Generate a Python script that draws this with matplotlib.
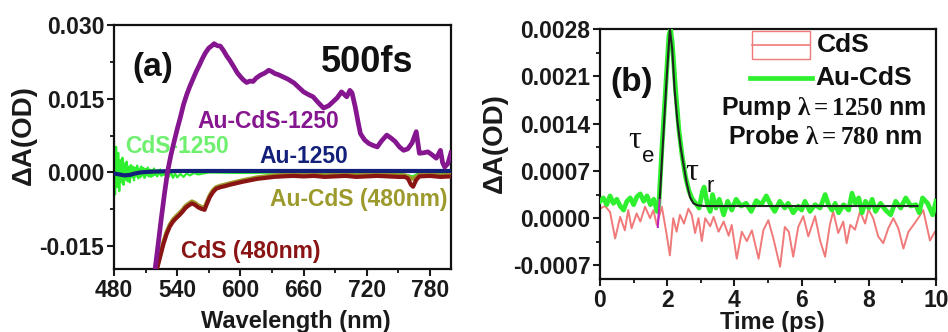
import matplotlib
matplotlib.use("Agg")
import matplotlib.pyplot as plt
from matplotlib.patches import Rectangle
from matplotlib.lines import Line2D
from matplotlib.ticker import MultipleLocator, FixedLocator

plt.rcParams['font.family'] = ['Liberation Sans', 'DejaVu Sans']
plt.rcParams['font.weight'] = 'bold'
plt.rcParams['mathtext.fontset'] = 'custom'
plt.rcParams['mathtext.rm'] = 'Liberation Serif'
plt.rcParams['mathtext.it'] = 'Liberation Serif:italic'

# ---------------- Panel (a) data ----------------
purple_wl = [518, 519, 522, 525, 528, 531, 534, 537, 540, 543, 546, 549, 552, 555, 558, 561, 564,
             567, 570, 573, 575, 578, 581, 584, 587, 590, 594, 597, 600, 603, 606, 609, 612, 615,
             619, 623, 627, 630, 633, 636, 640, 645, 651, 656, 660, 665, 669, 674, 679, 684, 688,
             692, 696, 699, 701, 704, 706, 709, 712, 714, 718, 722, 726, 730, 734, 739, 743, 747,
             751, 755, 759, 763, 767, 770, 774, 778, 782, 786, 790, 792, 794, 797, 800]
purple_val = [-0.0215, -0.0197, -0.0145, -0.0092, -0.0042, 0.0003, 0.0035, 0.0062, 0.0088, 0.0112,
              0.0138, 0.0158, 0.0175, 0.0190, 0.0205, 0.0218, 0.0232, 0.0244, 0.0253, 0.0258,
              0.0262, 0.0258, 0.0257, 0.0248, 0.0237, 0.0228, 0.0214, 0.0203, 0.0195, 0.0188,
              0.0183, 0.0186, 0.0185, 0.0192, 0.0198, 0.0202, 0.0208, 0.0205, 0.0201, 0.0199,
              0.0195, 0.0190, 0.0182, 0.0172, 0.0164, 0.0158, 0.0154, 0.0142, 0.0131, 0.0136,
              0.0144, 0.0152, 0.0164, 0.0158, 0.0154, 0.0167, 0.0162, 0.0134, 0.0100, 0.0079,
              0.0066, 0.0059, 0.0055, 0.0052, 0.0064, 0.0076, 0.0070, 0.0063, 0.0052, 0.0045,
              0.0048, 0.0060, 0.0083, 0.0039, 0.0040, 0.0042, 0.0036, 0.0029, 0.0045, 0.0020,
              0.0011, 0.0018, 0.0040]

red_wl = [519, 521, 524, 527, 530, 533, 536, 539, 542, 545, 548, 551, 554, 557, 560, 563, 566,
          568, 571, 574, 577, 581, 585, 590, 596, 602, 609, 616, 624, 632, 640, 650, 660, 670,
          680, 690, 700, 710, 720, 730, 740, 750, 756, 759, 762, 764, 767, 770, 780, 790, 800]
cds480_val = [-0.0215, -0.0195, -0.0170, -0.0145, -0.0125, -0.0110, -0.0100, -0.0093, -0.0087,
              -0.0080, -0.0072, -0.0067, -0.0063, -0.0066, -0.0071, -0.0074, -0.0076, -0.0065,
              -0.0050, -0.0040, -0.0033, -0.0030, -0.0028, -0.0025, -0.0022, -0.0019, -0.0016,
              -0.0013, -0.0011, -0.0009, -0.0008, -0.0007, -0.0008, -0.0007, -0.0009, -0.0008,
              -0.0007, -0.0009, -0.0008, -0.0007, -0.0008, -0.0009, -0.0009, -0.0012, -0.0025,
              -0.0029, -0.0015, -0.0008, -0.0007, -0.0009, -0.0008]
aucds480_val = [-0.0212, -0.0191, -0.0166, -0.0141, -0.0121, -0.0106, -0.0096, -0.0089, -0.0083,
                -0.0076, -0.0068, -0.0063, -0.0059, -0.0062, -0.0067, -0.0070, -0.0072, -0.0061,
                -0.0046, -0.0036, -0.0030, -0.0027, -0.0025, -0.0022, -0.0019, -0.0016, -0.0013,
                -0.0010, -0.0008, -0.0006, -0.0005, -0.0004, -0.0005, -0.0004, -0.0006, -0.0005,
                -0.0004, -0.0006, -0.0005, -0.0004, -0.0005, -0.0006, -0.0006, -0.0008, -0.0012,
                -0.0013, -0.0009, -0.0005, -0.0004, -0.0006, -0.0005]

au_wl = [480, 485, 490, 495, 500, 505, 510, 520, 540, 560, 600, 650, 700, 750, 800]
au_val = [-0.0002, -0.0004, -0.0006, -0.0005, -0.0002, 0.0000, 0.0001, 0.0002, 0.0003, 0.0003,
          0.0003, 0.0003, 0.0003, 0.0003, 0.0003]

green_wl = [480, 481, 482, 483, 484, 485, 486, 487, 488, 489, 490, 491, 492, 493, 494, 495, 496,
            497, 498, 499, 500, 501, 502, 503, 504, 505, 506, 507, 508, 509, 510, 511, 512, 513,
            514, 515, 516, 517, 518, 519, 520, 521, 522, 523, 524, 525, 526, 527, 528, 529, 530,
            532, 534, 536, 538, 540, 543, 546, 549, 552, 556, 560, 570, 600, 650, 700, 750, 760,
            764, 768, 780, 800]
green_val = [0.0060, -0.0045, 0.0052, -0.0030, 0.0040, -0.0038, 0.0025, -0.0020, 0.0030, -0.0025,
             0.0018, -0.0015, 0.0022, -0.0018, 0.0012, -0.0020, 0.0015, -0.0010, 0.0012, -0.0016,
             0.0010, -0.0008, 0.0014, -0.0012, 0.0008, -0.0010, 0.0012, -0.0006, 0.0009, -0.0011,
             0.0007, -0.0006, 0.0010, -0.0008, 0.0006, -0.0009, 0.0005, -0.0007, 0.0008, -0.0005,
             0.0004, -0.0008, 0.0005, -0.0004, 0.0006, -0.0007, 0.0003, -0.0005, 0.0004, -0.0006,
             0.0002, -0.0009, 0.0001, -0.0011, -0.0002, -0.0010, -0.0003, -0.0009, -0.0002,
             -0.0006, -0.0001, -0.0004, 0.0000, -0.0001, 0.0000, -0.0001, -0.0002, -0.0006,
             -0.0008, -0.0003, -0.0001, -0.0002]

a_xticks = [480, 540, 600, 660, 720, 780]
a_yticks = [-0.015, 0.000, 0.015, 0.030]
a_yticklabels = ['-0.015', '0.000', '0.015', '0.030']

# ---------------- Panel (b) data ----------------
aucds_t = [0.0, 0.1, 0.2, 0.3, 0.4, 0.5, 0.6, 0.7, 0.8, 0.9, 1.0, 1.1, 1.2, 1.3, 1.4, 1.5, 1.6,
           1.7, 1.75, 1.85, 1.95, 2.05, 2.1, 2.15, 2.25, 2.35, 2.45, 2.55, 2.65, 2.75, 2.85, 2.95,
           3.05, 3.1, 3.2, 3.28, 3.35, 3.45, 3.55, 3.68, 3.8, 3.92, 4.05, 4.2, 4.35, 4.5, 4.65,
           4.8, 4.95, 5.1, 5.2, 5.35, 5.5, 5.6, 5.75, 5.9, 6.0, 6.1, 6.25, 6.4, 6.55, 6.7, 6.8,
           6.9, 7.0, 7.1, 7.25, 7.4, 7.5, 7.6, 7.7, 7.8, 7.9, 8.0, 8.1, 8.2, 8.35, 8.5, 8.65, 8.8,
           8.95, 9.1, 9.25, 9.4, 9.5, 9.6, 9.75, 9.9, 10.0]
aucds_val = [0.00025, 0.00030, 0.00020, 0.00033, 0.00022, 0.00028, 0.00018, 0.00012, 0.00025,
             0.00030, 0.00020, 0.00032, 0.00036, 0.00025, 0.00033, 0.00020, 0.00028, 0.00010,
             0.00020, 0.00110, 0.00190, 0.00270, 0.00280, 0.00260, 0.00190, 0.00130, 0.00090,
             0.00060, 0.00040, 0.00028, 0.00022, 0.00015, 0.00040, 0.00046, 0.00020, 0.00010,
             0.00035, 0.00015, 0.00028, 0.00005, 0.00025, 0.00012, 0.00028, 0.00018, 0.00022,
             0.00010, 0.00026, 0.00020, 0.00033, 0.00018, 0.00010, 0.00025, 0.00015, 0.00022,
             0.00008, 0.00018, 0.00012, 0.00025, 0.00010, 0.00020, 0.00015, 0.00035, 0.00020,
             0.00012, 0.00022, 0.00008, 0.00020, 0.00012, 0.00037, 0.00022, 0.00030, 0.00008,
             0.00025, 0.00015, 0.00028, 0.00010, 0.00022, 0.00012, 0.00005, 0.00025, 0.00015,
             0.00030, 0.00018, 0.00020, 0.00008, 0.00030, 0.00022, 0.00005, 0.00025]

fit_t = [1.72, 1.78, 1.9, 2.0, 2.08, 2.15, 2.22, 2.3, 2.4, 2.48, 2.58, 2.68, 2.78, 2.9, 3.1, 9.45]
fit_val = [-0.00013, 0.0003, 0.00135, 0.0022, 0.0028, 0.0025, 0.0019, 0.00145, 0.00105, 0.00081,
           0.00052, 0.00031, 0.00022, 0.00019, 0.00018, 0.00018]

cds_t = [0.0, 0.15, 0.3, 0.45, 0.6, 0.74, 0.84, 0.94, 1.09, 1.2, 1.34, 1.49, 1.59, 1.69, 1.84,
         1.98, 2.08, 2.18, 2.28, 2.38, 2.5, 2.63, 2.73, 2.83, 2.93, 3.03, 3.13, 3.28, 3.38, 3.53,
         3.68, 3.83, 3.92, 4.07, 4.22, 4.37, 4.52, 4.72, 4.86, 5.01, 5.16, 5.36, 5.5, 5.62, 5.75,
         5.9, 6.05, 6.2, 6.4, 6.55, 6.7, 6.84, 6.94, 7.09, 7.24, 7.34, 7.45, 7.59, 7.74, 7.89,
         7.99, 8.13, 8.28, 8.43, 8.58, 8.73, 8.88, 9.03, 9.18, 9.33, 9.47, 9.62, 9.82, 9.97]
cds_val = [0.00014, 0.00018, 0.00009, -0.0003, 0.00002, -0.00018, 0.00012, -0.00015, 0.00007,
           -0.00005, 0.00017, 0.0, 0.00012, -0.0001, 0.00017, -0.00023, -0.00055, 0.0, -0.0002,
           0.00005, -0.00008, 0.00014, 0.00005, -0.00022, 0.0, -0.00034, 0.0, -0.00012, 0.00002,
           -0.0002, -0.00005, -0.00026, -0.0001, -0.0006, -0.0002, -0.00034, -0.00018, -0.0006,
           -0.00018, -0.00003, -0.0003, -0.00072, -0.00013, -0.0002, -0.00057, -0.00013, 0.00003,
           -0.00027, 0.00003, -0.00033, -0.00057, -0.0001, 0.0001, -0.00022, -0.00005, -0.00037,
           -0.0001, -0.00017, 0.0001, -0.00008, 0.00013, 0.0, -0.00027, -0.00037, -0.00015, 0.0,
           -0.00015, -0.00045, -0.0002, -0.0001, 0.0, 0.00012, -0.00033, -0.0002]

b_xticks = [0, 2, 4, 6, 8, 10]
b_yticks = [-0.0007, 0.0, 0.0007, 0.0014, 0.0021, 0.0028]
b_yticklabels = ['-0.0007', '0.0000', '0.0007', '0.0014', '0.0021', '0.0028']

# ---------------- Figure ----------------
fig = plt.figure(figsize=(9.48, 3.32), dpi=100)
W, H = 948.0, 332.0

def ax_rect(x0, x1, ytop, ybot):
    return [x0 / W, (H - ybot) / H, (x1 - x0) / W, (ybot - ytop) / H]

axa = fig.add_axes(ax_rect(114, 451, 25, 269.3))
axb = fig.add_axes(ax_rect(600, 936, 29, 279))

C_PURPLE = '#85168f'
C_GREEN = '#2ef02e'
C_NAVY = '#14207a'
C_RED = '#8a1414'
C_OLIVE = '#9c9a2c'
C_SALMON = '#f07a7a'
TICKC = '#1a1a1a'

for ax in (axa, axb):
    for s in ax.spines.values():
        s.set_linewidth(1.6)
        s.set_color('#111111')
    ax.tick_params(which='major', direction='out', length=5, width=1.5, pad=2,
                   labelsize=16.5, colors=TICKC)
    ax.tick_params(which='minor', direction='out', length=3, width=1.2)

# Panel (a)
axa.plot(green_wl, green_val, color=C_GREEN, lw=1.6, zorder=2)
axa.plot(red_wl, aucds480_val, color=C_OLIVE, lw=3.0, zorder=3)
axa.plot(red_wl, cds480_val, color=C_RED, lw=3.0, zorder=4)
axa.plot(au_wl, au_val, color=C_NAVY, lw=3.0, zorder=5)
axa.plot(purple_wl, purple_val, color=C_PURPLE, lw=3.4, zorder=6)
axa.set_xlim(480, 800)
axa.set_ylim(-0.0197, 0.030)
axa.xaxis.set_major_locator(FixedLocator(a_xticks))
axa.xaxis.set_minor_locator(MultipleLocator(30))
axa.set_yticks(a_yticks)
axa.set_yticklabels(a_yticklabels)
axa.yaxis.set_minor_locator(MultipleLocator(0.0075))
axa.set_xlabel('Wavelength (nm)', fontsize=17, fontweight='bold', color=TICKC)
axa.set_ylabel('ΔA(OD)', fontsize=20, fontweight='bold', color=TICKC)
axa.xaxis.set_label_coords(0.54, -0.165)
axa.yaxis.set_label_coords(-0.228, 0.55)

axa.text(0.116, 0.824, '(a)', transform=axa.transAxes, fontsize=24, fontweight='bold',
         ha='center', va='center', color='#111111')
axa.text(0.751, 0.845, '500fs', transform=axa.transAxes, fontsize=26, fontweight='bold',
         ha='center', va='center', color='#111111')
axa.text(0.457, 0.603, 'Au-CdS-1250', transform=axa.transAxes, fontsize=16.5, fontweight='bold',
         ha='center', va='center', color=C_PURPLE)
axa.text(0.187, 0.504, 'CdS-1250', transform=axa.transAxes, fontsize=16.5, fontweight='bold',
         ha='center', va='center', color='#6ef06e', zorder=1)
axa.text(0.564, 0.46, 'Au-1250', transform=axa.transAxes, fontsize=16.5, fontweight='bold',
         ha='center', va='center', color=C_NAVY)
axa.text(0.727, 0.284, 'Au-CdS (480nm)', transform=axa.transAxes, fontsize=16.5, fontweight='bold',
         ha='center', va='center', color=C_OLIVE)
axa.text(0.407, 0.071, 'CdS (480nm)', transform=axa.transAxes, fontsize=16.5, fontweight='bold',
         ha='center', va='center', color=C_RED)

# Panel (b)
axb.plot(cds_t, cds_val, color=C_SALMON, lw=1.4, zorder=2)
axb.plot(aucds_t, aucds_val, color=C_GREEN, lw=3.4, zorder=3)
axb.plot(fit_t[:2], fit_val[:2], color='#c020c0', lw=1.5, zorder=4)
axb.plot(fit_t[1:], fit_val[1:], color='#222222', lw=1.5, zorder=5)
axb.set_xlim(0, 10)
axb.set_ylim(-0.0009, 0.0028)
axb.xaxis.set_major_locator(FixedLocator(b_xticks))
axb.xaxis.set_minor_locator(MultipleLocator(1))
axb.set_yticks(b_yticks)
axb.set_yticklabels(b_yticklabels)
axb.yaxis.set_minor_locator(MultipleLocator(0.00035))
axb.set_xlabel('Time (ps)', fontsize=17, fontweight='bold', color=TICKC)
axb.set_ylabel('ΔA(OD)', fontsize=20, fontweight='bold', color=TICKC)
axb.xaxis.set_label_coords(0.512, -0.126)
axb.yaxis.set_label_coords(-0.274, 0.544)

axb.text(0.095, 0.788, '(b)', transform=axb.transAxes, fontsize=24, fontweight='bold',
         ha='center', va='center', color='#111111')
# legend (drawn manually)
axb.add_patch(Rectangle((0.452, 0.88), 0.173, 0.112, transform=axb.transAxes, fill=False,
                        edgecolor=C_SALMON, lw=1.0, zorder=6))
axb.add_line(Line2D([0.452, 0.625], [0.936, 0.936], transform=axb.transAxes, color=C_SALMON,
                    lw=1.2, zorder=6))
axb.text(0.646, 0.936, 'CdS', transform=axb.transAxes, fontsize=19, fontweight='bold',
         ha='left', va='center', color='#111111')
axb.add_line(Line2D([0.446, 0.631], [0.804, 0.804], transform=axb.transAxes, color=C_GREEN,
                    lw=3.4, zorder=6))
axb.text(0.64, 0.804, 'Au-CdS', transform=axb.transAxes, fontsize=19, fontweight='bold',
         ha='left', va='center', color='#111111')
axb.text(0.667, 0.684, r'Pump $\mathrm{\lambda = 1250}$ nm', transform=axb.transAxes,
         fontsize=18, fontweight='bold', ha='center', va='center', color='#111111')
axb.text(0.67, 0.568, r'Probe $\mathrm{\lambda = 780}$ nm', transform=axb.transAxes,
         fontsize=18, fontweight='bold', ha='center', va='center', color='#111111')
axb.text(0.104, 0.556, 'τ', transform=axb.transAxes, fontsize=23, family=['Liberation Serif'],
         fontweight='normal', ha='center', va='center', color='#111111')
axb.text(0.143, 0.488, 'e', transform=axb.transAxes, fontsize=16, fontweight='normal',
         ha='center', va='center', color='#111111')
axb.text(0.274, 0.428, 'τ', transform=axb.transAxes, fontsize=23, family=['Liberation Serif'],
         fontweight='normal', ha='center', va='center', color='#111111')
axb.text(0.327, 0.368, 'r', transform=axb.transAxes, fontsize=16, fontweight='normal',
         ha='center', va='center', color='#111111')

fig.savefig('out.png', dpi=100)
